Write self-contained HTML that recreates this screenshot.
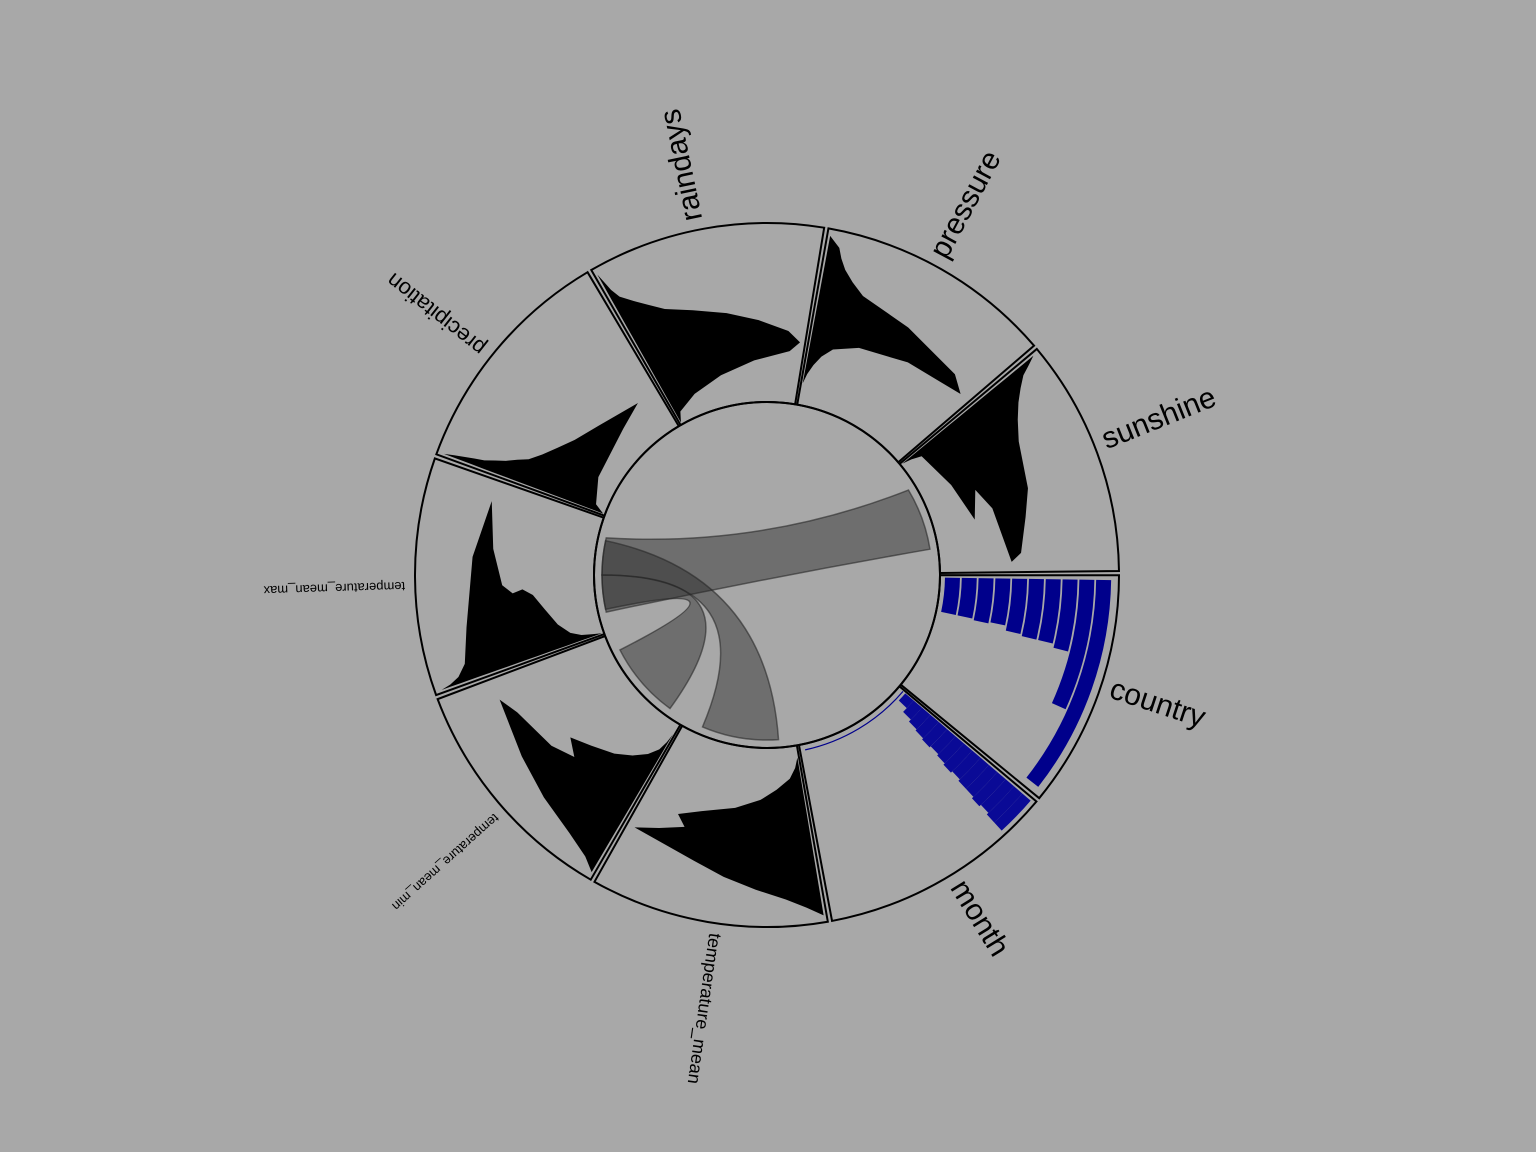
<!DOCTYPE html>
<html><head><meta charset="utf-8"><title>Circular chart</title>
<style>
html,body{margin:0;padding:0;background:#a8a8a8;}
svg{display:block;}
text{font-family:"Liberation Sans",sans-serif;fill:#000;}
</style></head>
<body>
<svg id="chart" width="1536" height="1152" viewBox="0 0 1536 1152" xmlns="http://www.w3.org/2000/svg">
<rect width="1536" height="1152" fill="#a8a8a8"/>
<g id="sectors"></g>
<g id="marks"></g>
<g id="links"></g>
<g id="labels"></g>
</svg>
<script>
// ---- data ----
const sectorNames = ["country","month","temperature_mean","temperature_mean_min","temperature_mean_max","precipitation","raindays","pressure","sunshine"];
const labelSizes = [30,30,18,13,13,22,30,30,30];
const densityGrid = [175,185,195,205,215,225,235,245,255,265,275,285,295,305,315,325,335,345];
const densTempMean = [0,0,.03,.08,.18,.29,.45,.65,.78,.72,.85,.97,.62,.46,.3,.16,.07,0];
const densTempMin = [0,0,.01,.03,.08,.16,.26,.4,.52,.42,.55,.8,.9,.6,.38,.18,.06,0];
const densTempMax = [0,.02,.04,.08,.16,.28,.38,.42,.4,.45,.65,.9,.6,.25,.08,.03,.01,0];
const densPrecip = [0,.05,.25,.65,.85,.55,.38,.28,.2,.14,.11,.08,.06,.04,.03,.02,.01,0];
const densRaindays = [0,.04,.2,.43,.68,.92,.98,.9,.72,.54,.36,.22,.15,.09,.04,.02,.01,0];
const densPressure = [0,0,0,.02,.05,.09,.15,.3,.6,.95,.85,.5,.22,.15,.1,.07,.05,0];
const densSunshine = [0,.02,.05,.35,.64,.45,.6,.95,.9,.7,.55,.3,.2,.13,.08,.04,.02,0];
const countryValues = [29,29,30,29,32,33,33,35,61,97];
const monthValues = [8,12,14,15,16,15,16,17,16,17,17,18,17,18,18];
const monthInnerValue = 97;
const linkFrom = [[167,193],[168,180],[180,192]];
const linkTo = [[329,351],[126,153],[86,113]];

// ---- geometry ----
const CX=767, CY=575, R_OUT=352, R_IN=173, R_CIRCLE=173, R_LINK=165;
const NS="http://www.w3.org/2000/svg";
const SEC_W=40, OFFSET=-0.3, GAP=0.35;
function secStart(i){return i*SEC_W+OFFSET+GAP;}
function secEnd(i){return (i+1)*SEC_W+OFFSET-GAP;}
function span(i){return secEnd(i)-secStart(i);}
function pt(r,a){const t=a*Math.PI/180;return [CX+r*Math.cos(t),CY+r*Math.sin(t)];}
function f(p){return p[0].toFixed(2)+","+p[1].toFixed(2);}
function annular(r1,r2,a1,a2){
  const large=(a2-a1)>180?1:0;
  return "M"+f(pt(r2,a1))+" A"+r2+","+r2+" 0 "+large+" 1 "+f(pt(r2,a2))+
    " L"+f(pt(r1,a2))+" A"+r1+","+r1+" 0 "+large+" 0 "+f(pt(r1,a1))+" Z";
}
function mk(tag,parent){const e=document.createElementNS(NS,tag);parent.appendChild(e);return e;}

const gS=document.getElementById("sectors"), gM=document.getElementById("marks"),
      gL=document.getElementById("links"), gT=document.getElementById("labels");

sectorNames.forEach((n,i)=>{
  const p=mk("path",gS);
  p.setAttribute("d",annular(R_IN,R_OUT,secStart(i),secEnd(i)));
  p.setAttribute("fill","#a8a8a8");p.setAttribute("stroke","#000");p.setAttribute("stroke-width","2");
  
  
});

function angleFromDensity(i,v){return secStart(i)+0.5+v*(span(i)-1);}
function drawDensity(i,vals){
  let d="";
  densityGrid.forEach((r,k)=>{d+=(k?"L":"M")+f(pt(r,angleFromDensity(i,vals[k])))+" ";});
  for(let k=densityGrid.length-1;k>=0;k--){d+="L"+f(pt(densityGrid[k],secStart(i)+0.5))+" ";}
  const p=mk("path",gM);p.setAttribute("d",d+"Z");p.setAttribute("fill","#000");
  
  
}
drawDensity(2,densTempMean);drawDensity(3,densTempMin);drawDensity(4,densTempMax);
drawDensity(5,densPrecip);drawDensity(6,densRaindays);drawDensity(7,densPressure);drawDensity(8,densSunshine);

const CMAX=100, BAR_R0=178, BAR_STEP=16.8;
countryValues.forEach((v,k)=>{
  const r1=BAR_R0+k*BAR_STEP, r2=r1+15;
  const a1=secStart(0)+0.8, a2=a1+v/CMAX*(span(0)-1);
  const p=mk("path",gM);p.setAttribute("d",annular(r1,r2,a1,a2));
  p.setAttribute("fill","#00008b");
  
  
});

const MMAX=100, M_R0=182, M_STEP=11;
monthValues.forEach((v,k)=>{
  const r1=M_R0+k*M_STEP, r2=r1+M_STEP;
  const a1=secStart(1)+0.5, a2=a1+v/MMAX*(span(1)-1);
  const p=mk("path",gM);p.setAttribute("d",annular(r1,r2,a1,a2));
  p.setAttribute("fill","#0a0a96");
  
  
});
(function(){
  const a1=secStart(1)+0.5, a2=a1+monthInnerValue/MMAX*(span(1)-1), r=179;
  const p=mk("path",gM);
  p.setAttribute("d","M"+f(pt(r,a1))+" A"+r+","+r+" 0 0 1 "+f(pt(r,a2)));
  p.setAttribute("fill","none");p.setAttribute("stroke","#00008b");p.setAttribute("stroke-width","1.2");
  
  
})();

const circ=mk("circle",gL);
circ.setAttribute("cx",CX);circ.setAttribute("cy",CY);circ.setAttribute("r",R_CIRCLE);
circ.setAttribute("fill","none");circ.setAttribute("stroke","#000");circ.setAttribute("stroke-width","2");



function ctrl(p,q,k){
  const mx=(p[0]+q[0])/2, my=(p[1]+q[1])/2;
  return (CX+k*(mx-CX)).toFixed(2)+","+(CY+k*(my-CY)).toFixed(2);
}
linkFrom.forEach((a,i)=>{
  const b=linkTo[i], r=R_LINK;
  let dist=Math.abs((a[0]+a[1])/2-(b[0]+b[1])/2); if(dist>180) dist=360-dist;
  const k=dist>120?0.45:0;
  const A0=pt(r,a[0]),A1=pt(r,a[1]),B0=pt(r,b[0]),B1=pt(r,b[1]);
  const d="M"+f(A0)+" A"+r+","+r+" 0 0 1 "+f(A1)+
    " Q"+ctrl(A1,B0,k)+" "+f(B0)+" A"+r+","+r+" 0 0 1 "+f(B1)+
    " Q"+ctrl(B1,A0,k)+" "+f(A0)+" Z";
  const p=mk("path",gL);p.setAttribute("d",d);
  p.setAttribute("fill","rgba(40,40,40,0.45)");p.setAttribute("stroke","rgba(40,40,40,0.6)");p.setAttribute("stroke-width","1.5");
  
  
});

sectorNames.forEach((n,i)=>{
  const a=(secStart(i)+secEnd(i))/2-1.5;
  const t=mk("text",gT);
  t.setAttribute("x",CX+362);t.setAttribute("y",CY);
  t.setAttribute("dominant-baseline","central");
  t.setAttribute("font-size",labelSizes[i]);
  t.setAttribute("transform","rotate("+a.toFixed(2)+" "+CX+" "+CY+")");
  t.textContent=n;
  
  
});
</script>
</body></html>
